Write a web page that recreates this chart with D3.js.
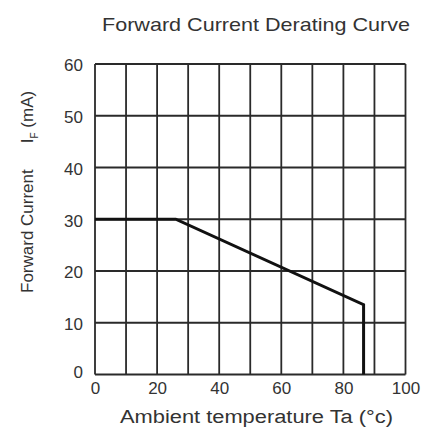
<!DOCTYPE html>
<html>
<head>
<meta charset="utf-8">
<script src="https://cdn.jsdelivr.net/npm/d3@7"></script>
<style>
  body { margin: 0; background: #fff; }
  text { font-family: Arial, "Liberation Sans", sans-serif; fill: #333; }
</style>
</head>
<body>
<svg class="canvas"></svg>
<script>
// Setting constants
const wWidth = 435
const wHeight = 431

// Chart data
const xTicks = [0, 20, 40, 60, 80, 100]
const yTicks = [0, 10, 20, 30, 40, 50, 60]
const xGrid = [0, 10, 20, 30, 40, 50, 60, 70, 80, 90, 100]
const curveTemp = [0, 26, 86.5, 86.5]
const curveCurrent = [30, 30, 13.5, 0]

const margin = {top: 64, right: 29.5, bottom: 56.5, left: 95};
const graphWidth = wWidth - margin.left - margin.right;
const graphHeight = wHeight - margin.top - margin.bottom;

const svg = d3.select('.canvas')
  .attr('width', wWidth)
  .attr('height', wHeight);

const graph = svg.append('g')
  .attr('transform', `translate(${margin.left}, ${margin.top})`);

const xScale = d3.scaleLinear().domain([0, 100]).range([0, graphWidth]);
const yScale = d3.scaleLinear().domain([0, 60]).range([graphHeight, 0]);

// Grid lines
graph.selectAll('.vgrid')
  .data(xGrid)
  .enter().append('line')
  .attr('x1', d => xScale(d)).attr('x2', d => xScale(d))
  .attr('y1', 0).attr('y2', graphHeight)
  .attr('stroke', '#2a2a2a').attr('stroke-width', 1.8);

graph.selectAll('.hgrid')
  .data(yTicks)
  .enter().append('line')
  .attr('y1', d => yScale(d)).attr('y2', d => yScale(d))
  .attr('x1', 0).attr('x2', graphWidth)
  .attr('stroke', '#2a2a2a').attr('stroke-width', 1.8);

// Axes (labels only)
const xAxis = d3.axisBottom(xScale).tickValues(xTicks).tickSize(0).tickPadding(6);
const yAxis = d3.axisLeft(yScale).tickValues(yTicks).tickSize(0).tickPadding(12);

const xAxisGroup = graph.append('g')
  .attr('transform', `translate(0, ${graphHeight})`)
  .call(xAxis);
const yAxisGroup = graph.append('g').call(yAxis);

[xAxisGroup, yAxisGroup].forEach(g => {
  g.select('.domain').remove();
  g.selectAll('text')
    .style('font-family', 'Arial, "Liberation Sans", sans-serif')
    .style('font-size', '17px')
    .attr('fill', '#333');
});
yAxisGroup.selectAll('text').attr('dy', '0.4em');
yAxisGroup.selectAll('text').filter(d => d === 0).attr('dy', '0.2em');
xAxisGroup.selectAll('text').attr('dy', '0.8em');

// Derating curve
const line = d3.line()
  .x(d => xScale(d[0]))
  .y(d => yScale(d[1]));

graph.append('path')
  .datum(d3.zip(curveTemp, curveCurrent))
  .attr('d', line)
  .attr('fill', 'none')
  .attr('stroke', '#111')
  .attr('stroke-width', 3)
  .attr('stroke-linejoin', 'miter');

// Title
svg.append('text')
  .attr('x', 102).attr('y', 31)
  .attr('textLength', 308).attr('lengthAdjust', 'spacingAndGlyphs')
  .style('font-size', '19px')
  .text('Forward Current Derating Curve');

// X axis label
svg.append('text')
  .attr('x', 120).attr('y', 423)
  .attr('textLength', 273).attr('lengthAdjust', 'spacingAndGlyphs')
  .style('font-size', '18px')
  .text('Ambient temperature Ta (°c)');

// Y axis label
const yLabel = svg.append('text')
  .attr('transform', 'translate(33, 293) rotate(-90)')
  .style('font-size', '17px');
yLabel.append('tspan').text('Forward Current');
yLabel.append('tspan').attr('dx', 26).text('I');
yLabel.append('tspan').attr('dy', 5).style('font-size', '10px').text('F');
yLabel.append('tspan').attr('dy', -5).text(' (mA)');
</script>
</body>
</html>
